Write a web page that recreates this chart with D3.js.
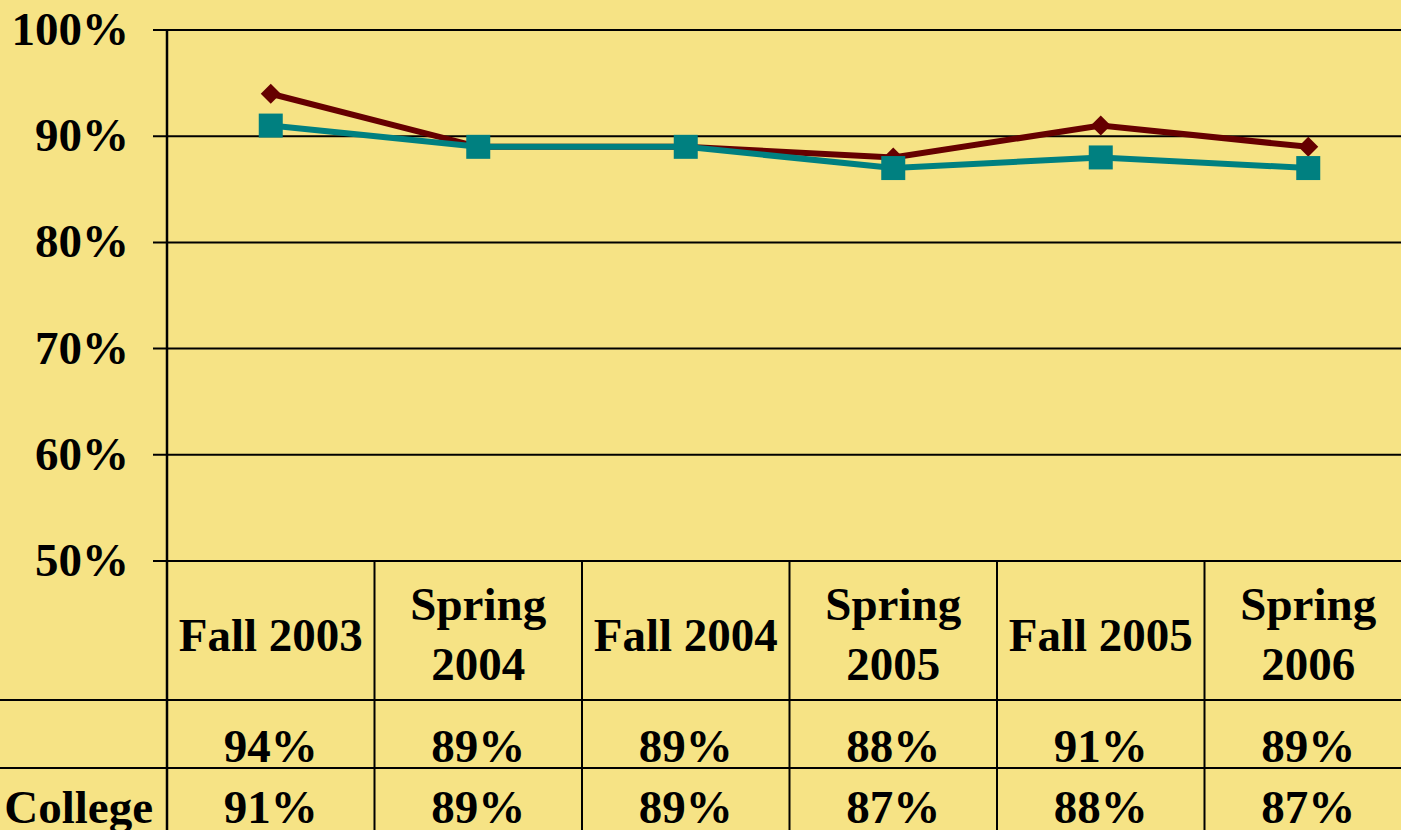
<!DOCTYPE html>
<html lang="en">
<head>
<meta charset="utf-8">
<title>Success Rates</title>
<script src="https://cdn.jsdelivr.net/npm/d3@7"></script>
<style>
body { margin: 0; background: #f6e385; overflow: hidden; }
text { font-family: "Liberation Serif", "Times New Roman", serif; font-weight: bold; fill: #000; }
</style>
</head>
<body>
<script>
var terms = [["Fall 2003"], ["Spring", "2004"], ["Fall 2004"], ["Spring", "2005"], ["Fall 2005"], ["Spring", "2006"]];
var seriesA = [94, 89, 89, 88, 91, 89];   // dark red, no row label
var seriesB = [91, 89, 89, 87, 88, 87];   // College
var rowLabels = ["", "College"];
var yTicks = [50, 60, 70, 80, 90, 100];

var w = 1401, h = 830;
var plotLeft = 167, plotTop = 30, axisY = 561;
var row1 = 700, row2 = 768;
var fs = "47px";

var svg = d3.select("body").append("svg")
	.attr("width", w)
	.attr("height", h);

var x = d3.scaleBand().domain(d3.range(terms.length)).range([plotLeft, 1412]);
var y = d3.scaleLinear().domain([50, 100]).range([axisY, plotTop]);

// grid + ticks
svg.selectAll("line.grid").data(yTicks)
	.enter().append("line")
	.attr("class", "grid")
	.attr("x1", plotLeft - 14).attr("x2", w)
	.attr("y1", function(d) { return y(d); })
	.attr("y2", function(d) { return y(d); })
	.attr("stroke", "#000").attr("stroke-width", 2);

svg.selectAll("text.ytick").data(yTicks)
	.enter().append("text")
	.attr("class", "ytick")
	.attr("x", 129)
	.attr("y", function(d) { return y(d) + 15; })
	.attr("text-anchor", "end")
	.attr("font-size", fs)
	.text(function(d) { return d + "%"; });

// y axis line down through table
svg.append("line")
	.attr("x1", plotLeft).attr("x2", plotLeft)
	.attr("y1", plotTop).attr("y2", h)
	.attr("stroke", "#000").attr("stroke-width", 2.5);

// table lines
svg.selectAll("line.col").data(d3.range(1, terms.length))
	.enter().append("line")
	.attr("class", "col")
	.attr("x1", function(d) { return x(d); })
	.attr("x2", function(d) { return x(d); })
	.attr("y1", axisY).attr("y2", h)
	.attr("stroke", "#000").attr("stroke-width", 2);

svg.selectAll("line.row").data([row1, row2])
	.enter().append("line")
	.attr("class", "row")
	.attr("x1", 0).attr("x2", w)
	.attr("y1", function(d) { return d; })
	.attr("y2", function(d) { return d; })
	.attr("stroke", "#000").attr("stroke-width", 2);

// header labels
var hdr = svg.selectAll("text.hdr").data(terms)
	.enter().append("text")
	.attr("class", "hdr")
	.attr("text-anchor", "middle")
	.attr("font-size", fs);
hdr.each(function(d, i) {
	var cx = x(i) + x.bandwidth() / 2;
	var sel = d3.select(this);
	if (d.length == 1) {
		sel.append("tspan").attr("x", cx).attr("y", 651).text(d[0]);
	} else {
		sel.append("tspan").attr("x", cx).attr("y", 620).text(d[0]);
		sel.append("tspan").attr("x", cx).attr("y", 680).text(d[1]);
	}
});

// value rows
[seriesA, seriesB].forEach(function(s, r) {
	svg.selectAll("text.v" + r).data(s)
		.enter().append("text")
		.attr("class", "v" + r)
		.attr("x", function(d, i) { return x(i) + x.bandwidth() / 2; })
		.attr("y", r == 0 ? 762 : 823)
		.attr("text-anchor", "middle")
		.attr("font-size", fs)
		.text(function(d) { return d + "%"; });
	svg.append("text")
		.attr("x", 153).attr("y", r == 0 ? 762 : 823)
		.attr("text-anchor", "end")
		.attr("font-size", fs)
		.text(rowLabels[r]);
});

// lines
var cx = function(d, i) { return x(i) + x.bandwidth() / 2; };
var line = d3.line().x(cx).y(function(d) { return y(d); });

svg.append("path").datum(seriesA)
	.attr("d", line).attr("fill", "none")
	.attr("stroke", "#660000").attr("stroke-width", 6);
svg.append("path").datum(seriesB)
	.attr("d", line).attr("fill", "none")
	.attr("stroke", "#008080").attr("stroke-width", 6);

svg.selectAll("path.dia").data(seriesA)
	.enter().append("path")
	.attr("class", "dia")
	.attr("d", "M0,-10L10,0L0,10L-10,0Z")
	.attr("transform", function(d, i) { return "translate(" + cx(d, i) + "," + y(d) + ")"; })
	.attr("fill", "#660000");

svg.selectAll("rect.sq").data(seriesB)
	.enter().append("rect")
	.attr("class", "sq")
	.attr("x", function(d, i) { return cx(d, i) - 12; })
	.attr("y", function(d) { return y(d) - 12; })
	.attr("width", 24).attr("height", 24)
	.attr("fill", "#008080");
</script>
</body>
</html>
